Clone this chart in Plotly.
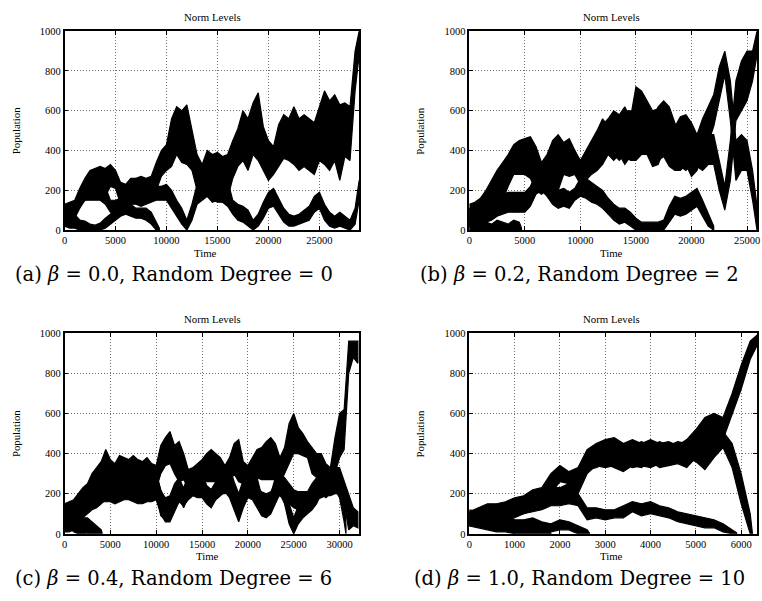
import plotly.graph_objects as go

# ---------------- data ----------------
# Panel (a): beta = 0.0, random degree = 0
A_T = list(range(0, 28501, 500)) + [28900]
A1_LO = [40, 50, 70, 120, 150, 160, 170, 180, 170, 220, 210, 130, 140, 160, 170, 170, 160, 170, 200, 270,
         300, 320, 380, 340, 330, 300, 200, 160, 170, 150, 140, 140, 160, 260, 320, 350, 300, 380, 350, 300,
         250, 280, 320, 360, 350, 330, 300, 320, 300, 280, 350, 330, 300, 350, 250, 370, 350, 700, 880]
A1_HI = [130, 140, 150, 210, 260, 300, 310, 320, 310, 330, 300, 240, 230, 260, 260, 270, 260, 270, 340, 400,
         430, 560, 620, 600, 630, 500, 380, 330, 400, 380, 390, 370, 380, 450, 510, 600, 560, 640, 690, 520,
         450, 420, 530, 580, 560, 620, 560, 580, 560, 540, 620, 700, 650, 680, 630, 640, 620, 900, 1000]
A2_LO = [30, 40, 60, 110, 150, 150, 150, 150, 130, 90, 90, 100, 120, 130, 130, 120, 130, 140, 150, 150,
         150, 110, 70, 30, 0, 50, 130, 150, 170, 140, 150, 140, 120, 80, 50, 40, 20, 0, 20, 60,
         110, 120, 80, 40, 20, 20, 30, 40, 50, 90, 110, 50, 20, 10, 20, 10, 0, 30, 150]
A2_HI = [120, 130, 140, 190, 230, 240, 230, 240, 220, 150, 150, 160, 190, 200, 210, 200, 220, 230, 220, 220,
         230, 200, 150, 110, 50, 130, 230, 280, 330, 300, 330, 300, 250, 150, 130, 120, 100, 50, 80, 140,
         190, 210, 160, 110, 80, 70, 80, 100, 120, 170, 190, 130, 90, 70, 90, 70, 50, 110, 250]
A3_T = list(range(0, 9001, 500)) + [9300]
A3_LO = [20, 10, 10, 0, 0, 0, 0, 0, 10, 30, 50, 70, 80, 70, 60, 60, 50, 30, 0, 0]
A3_HI = [110, 90, 80, 50, 45, 30, 25, 35, 60, 80, 110, 140, 140, 130, 110, 110, 110, 90, 40, 10]

# Panel (b): beta = 0.2, random degree = 2
B_T = list(range(0, 25501, 500)) + [25900]
B1_LO = [30, 40, 50, 90, 120, 170, 210, 250, 290, 310, 330, 340, 280, 230, 250, 280, 310, 280, 270, 280,
         230, 250, 280, 300, 330, 380, 350, 380, 330, 370, 390, 400, 390, 360, 350, 370, 320, 300, 300, 330,
         270, 300, 380, 440, 520, 650, 780, 550, 250, 300, 300, 150, 0]
B1_HI = [130, 140, 160, 200, 250, 300, 340, 380, 430, 450, 460, 470, 420, 340, 380, 450, 480, 440, 460, 400,
         330, 380, 420, 440, 530, 560, 600, 580, 620, 560, 720, 700, 650, 600, 610, 580, 560, 520, 570, 580,
         540, 480, 560, 620, 680, 820, 900, 750, 450, 480, 450, 300, 120]
B6_LO = [20, 30, 40, 60, 90, 120, 150, 220, 280, 280, 280, 260, 200, 180, 200, 180, 200, 280, 290, 280,
         250, 260, 300, 350, 380, 400, 380, 350, 380, 350, 350, 380, 380, 320, 330, 400, 380, 330, 320, 300,
         330, 320, 300, 330, 330, 200, 100, 250, 550, 600, 650, 750, 880]
B6_HI = [110, 120, 130, 170, 200, 240, 280, 330, 380, 400, 400, 380, 320, 280, 330, 300, 330, 380, 400, 400,
         350, 400, 450, 500, 560, 520, 560, 550, 600, 600, 580, 640, 620, 560, 620, 650, 620, 540, 480, 500,
         500, 480, 430, 480, 480, 350, 220, 450, 750, 850, 900, 900, 1000]
B2_T = list(range(0, 22001, 500))
B2_LO = [0, 10, 20, 40, 50, 70, 80, 90, 90, 90, 90, 120, 180, 200, 170, 130, 110, 120, 110, 150,
         170, 160, 140, 130, 110, 80, 50, 30, 40, 20, 0, 0, 0, 0, 0, 0, 40, 80, 70, 80,
         100, 120, 70, 20, 0]
B2_HI = [100, 110, 120, 140, 150, 170, 180, 190, 190, 190, 190, 220, 280, 300, 260, 220, 200, 210, 190, 210,
         260, 260, 240, 220, 200, 160, 130, 110, 110, 90, 60, 40, 40, 40, 40, 50, 120, 170, 160, 170,
         190, 210, 150, 80, 20]
B3_T = list(range(0, 4501, 500)) + [4700]
B3_LO = [20, 10, 0, 0, 0, 0, 0, 0, 0, 0, 0]
B3_HI = [110, 80, 50, 40, 30, 50, 40, 30, 50, 40, 10]
B4_T = [0, 500, 1000, 1500]
B4_LO = [10, 0, 0, 0]
B4_HI = [80, 40, 25, 10]

# Panel (c): beta = 0.4, random degree = 6
C_T = list(range(0, 32001, 500))
C1_LO = [30, 50, 60, 90, 100, 130, 170, 180, 200, 220, 200, 180, 200, 210, 200, 190, 210, 260, 200, 260,
         220, 300, 340, 350, 300, 260, 270, 230, 220, 240, 260, 260, 260, 260, 270, 240, 250, 300, 260, 250,
         240, 260, 280, 270, 270, 270, 270, 250, 300, 350, 400, 400, 390, 380, 300, 280, 250, 230, 200, 300,
         380, 420, 800, 880, 850]
C1_HI = [150, 160, 170, 200, 230, 250, 300, 330, 360, 420, 370, 350, 390, 380, 370, 390, 370, 360, 380, 350,
         340, 440, 480, 510, 440, 460, 400, 320, 330, 350, 370, 400, 420, 400, 380, 340, 380, 450, 470, 360,
         340, 380, 420, 430, 460, 480, 450, 380, 430, 550, 600, 530, 500, 460, 430, 400, 400, 350, 330, 480,
         600, 620, 960, 960, 960]
C2_T = list(range(0, 30501, 500)) + [30700]
C2_LO = [30, 40, 60, 80, 100, 120, 140, 150, 160, 160, 160, 150, 160, 170, 170, 160, 150, 150, 160, 160,
         170, 100, 60, 60, 110, 160, 140, 170, 190, 180, 180, 150, 130, 170, 190, 210, 180, 120, 60, 130,
         180, 170, 130, 90, 80, 100, 150, 200, 150, 50, 0, 50, 80, 100, 120, 150, 200, 180, 200, 220,
         180, 60, 0]
C2_HI = [130, 140, 160, 180, 200, 230, 260, 270, 290, 300, 300, 280, 280, 290, 300, 280, 270, 230, 280, 230,
         300, 220, 170, 170, 220, 260, 230, 280, 300, 290, 300, 240, 220, 250, 300, 300, 280, 230, 180, 240,
         300, 280, 230, 210, 200, 210, 250, 320, 270, 150, 80, 140, 170, 200, 220, 250, 300, 280, 320, 350,
         300, 180, 40]
C5_LO = [40, 40, 50, 60, 80, 100, 120, 130, 150, 170, 180, 190, 200, 190, 190, 200, 190, 190, 190, 190,
         200, 90, 70, 80, 150, 180, 130, 190, 220, 200, 200, 170, 160, 180, 200, 200, 210, 150, 120, 180,
         200, 200, 180, 120, 100, 110, 180, 190, 170, 150, 130, 120, 120, 130, 150, 170, 180, 190, 190, 200,
         200, 150, 20, 40, 30]
C5_HI = [140, 140, 150, 170, 180, 210, 240, 250, 270, 290, 300, 310, 320, 310, 310, 320, 330, 300, 320, 280,
         310, 210, 180, 190, 250, 280, 225, 300, 320, 300, 300, 240, 220, 260, 320, 300, 330, 260, 200, 270,
         320, 300, 280, 190, 190, 200, 280, 300, 280, 250, 220, 210, 210, 210, 250, 280, 300, 310, 310, 330,
         330, 260, 200, 130, 110]
C3_T = list(range(0, 4001, 500)) + [4100]
C3_LO = [10, 10, 20, 20, 20, 0, 0, 0, 0, 0]
C3_HI = [100, 90, 100, 90, 80, 80, 60, 40, 20, 5]
C4_T = list(range(0, 2001, 500)) + [2300]
C4_LO = [20, 30, 10, 0, 0, 0]
C4_HI = [110, 120, 100, 60, 30, 5]

# Panel (d): beta = 1.0, random degree = 10
D_T = list(range(0, 6401, 200))
D1_LO = [50, 60, 60, 70, 80, 100, 110, 130, 150, 200, 260, 250, 260, 320, 330, 350, 330, 310, 340, 330,
         360, 330, 340, 350, 330, 380, 400, 450, 470, 600, 720, 870, 960]
D1_HI = [110, 130, 150, 150, 160, 180, 190, 220, 230, 300, 340, 310, 330, 420, 450, 470, 480, 450, 470, 450,
         470, 450, 460, 440, 470, 520, 580, 600, 580, 700, 840, 960, 1000]
D3_T = list(range(0, 6201, 200)) + [6250]
D3_LO = [40, 50, 60, 60, 70, 90, 100, 120, 140, 150, 160, 180, 200, 300, 340, 330, 340, 350, 330, 340,
         330, 350, 340, 360, 380, 360, 320, 380, 430, 330, 150, 0, 0]
D3_HI = [100, 120, 140, 140, 150, 170, 180, 200, 220, 230, 230, 250, 300, 400, 420, 430, 460, 450, 440, 460,
         440, 460, 440, 460, 450, 480, 530, 520, 510, 450, 300, 100, 20]
D2_T = list(range(0, 5801, 200)) + [5900]
D2_LO = [40, 50, 60, 70, 60, 80, 100, 110, 120, 140, 140, 150, 140, 70, 80, 70, 80, 80, 110, 90,
         100, 90, 80, 60, 50, 40, 30, 30, 10, 0, 0]
D2_HI = [110, 120, 140, 140, 130, 150, 180, 200, 190, 210, 200, 200, 200, 130, 130, 120, 120, 140, 160, 150,
         160, 140, 130, 110, 100, 90, 80, 70, 50, 20, 5]
D4_T = list(range(0, 2601, 200)) + [2650]
D4_LO = [50, 40, 30, 30, 20, 20, 10, 20, 20, 10, 20, 20, 0, 0, 0]
D4_HI = [120, 110, 100, 90, 80, 70, 70, 80, 60, 50, 70, 60, 40, 20, 5]
D5_T = list(range(0, 1801, 200))
D5_LO = [40, 30, 20, 10, 10, 0, 0, 0, 0, 0]
D5_HI = [100, 90, 70, 60, 50, 40, 30, 30, 20, 5]

X_MAX = [28900, 25900, 32140, 6350]
X_TICKS = [list(range(0, 25001, 5000)), list(range(0, 25001, 5000)),
           list(range(0, 30001, 5000)), list(range(0, 6001, 1000))]
Y_TICKS = list(range(0, 1001, 200))
CAPTIONS = ["(a) <i>β</i> = 0.0, Random Degree = 0",
            "(b) <i>β</i> = 0.2, Random Degree = 2",
            "(c) <i>β</i> = 0.4, Random Degree = 6",
            "(d) <i>β</i> = 1.0, Random Degree = 10"]

# ---------------- figure ----------------
W, H = 762, 601
fig = go.Figure()


def band(t, lo, hi, k):
    xs = list(t) + list(t)[::-1]
    ys = list(hi) + list(lo)[::-1]
    fig.add_trace(go.Scatter(
        x=xs, y=ys, mode="lines", fill="toself", fillcolor="black",
        line=dict(color="black", width=1.2),
        xaxis="x" if k == 1 else f"x{k}", yaxis="y" if k == 1 else f"y{k}",
        hoverinfo="skip", showlegend=False))


band(A3_T, A3_LO, A3_HI, 1)
band(A_T, A2_LO, A2_HI, 1)
band(A_T, A1_LO, A1_HI, 1)

band(B4_T, B4_LO, B4_HI, 2)
band(B3_T, B3_LO, B3_HI, 2)
band(B2_T, B2_LO, B2_HI, 2)
band(B_T, B6_LO, B6_HI, 2)
band(B_T, B1_LO, B1_HI, 2)

band(C4_T, C4_LO, C4_HI, 3)
band(C3_T, C3_LO, C3_HI, 3)
band(C2_T, C2_LO, C2_HI, 3)
band(C_T, C5_LO, C5_HI, 3)
band(C_T, C1_LO, C1_HI, 3)

band(D5_T, D5_LO, D5_HI, 4)
band(D4_T, D4_LO, D4_HI, 4)
band(D2_T, D2_LO, D2_HI, 4)
band(D3_T, D3_LO, D3_HI, 4)
band(D_T, D1_LO, D1_HI, 4)

# plot areas in pixels: (left, right, top, bottom)
AREAS = [(62, 359, 26.7, 229.3), (470, 760, 26.7, 229.3),
         (62, 359, 334.3, 538.7), (470, 760, 334.3, 538.7)]

TICK_FONT = dict(family="Liberation Serif", size=10.5, color="black")
layout = dict(width=W, height=H, margin=dict(l=0, r=0, t=0, b=0),
              plot_bgcolor="white", paper_bgcolor="white", showlegend=False)

for i, (l, r, t, b) in enumerate(AREAS):
    k = i + 1
    xn = "xaxis" if k == 1 else f"xaxis{k}"
    yn = "yaxis" if k == 1 else f"yaxis{k}"
    common = dict(showgrid=True, gridcolor="#6e6e6e", griddash="1px,2px", gridwidth=1,
                  showline=True, linecolor="black", linewidth=1.5,
                  ticks="inside", ticklen=4, tickwidth=1, tickcolor="black",
                  tickfont=TICK_FONT, zeroline=False, fixedrange=True,
                  ticklabeloverflow="allow")
    layout[xn] = dict(common, domain=[l / W, r / W], range=[0, X_MAX[i]],
                      tickvals=X_TICKS[i], ticktext=[str(v) for v in X_TICKS[i]],
                      anchor="y" if k == 1 else f"y{k}", mirror="allticks")
    layout[yn] = dict(common, domain=[1 - b / H, 1 - t / H], range=[0, 1000],
                      tickvals=Y_TICKS, ticktext=[str(v) for v in Y_TICKS],
                      anchor="x" if k == 1 else f"x{k}", mirror="allticks")

fig.update_layout(**layout)

LBL_FONT = dict(family="Liberation Serif", size=10.8, color="black")
CAP_FONT = dict(family="DejaVu Serif", size=19.5, color="black")


def note(x, y, text, font, angle=0):
    fig.add_annotation(x=x / W, y=1 - y / H, xref="paper", yref="paper", text=text,
                       showarrow=False, font=font, xanchor="center", yanchor="middle",
                       textangle=angle, borderpad=0)


TITLE_X = [210.7, 613, 210.7, 613]
TIME_X = [204, 613, 206, 613]
YLAB_X = [12.7, 420.3, 12.7, 420.3]
CAP_X = [172, 581, 172, 581]
for i, (l, r, t, b) in enumerate(AREAS):
    note(TITLE_X[i], t - 14, "Norm Levels", LBL_FONT)
    note(TIME_X[i], b + 23, "Time", LBL_FONT)
    note(YLAB_X[i], (t + b) / 2, "Population", LBL_FONT, -90)
    note(CAP_X[i], b + 45, CAPTIONS[i], CAP_FONT)

fig.write_html("out.html")
